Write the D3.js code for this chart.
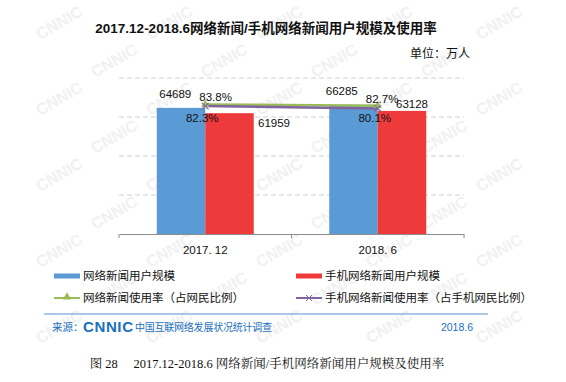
<!DOCTYPE html>
<html><head><meta charset="utf-8">
<script src="https://cdn.jsdelivr.net/npm/d3@7/dist/d3.min.js"></script>
<style>body{margin:0;background:#fff}svg{display:block}</style>
</head><body><svg id="c" width="566" height="382"></svg>
<script>
const categories = ["2017. 12", "2018. 6"];
const newsUsers = [64689, 66285];
const mobileNewsUsers = [61959, 63128];
const newsRate = [83.8, 82.7];
const mobileNewsRate = [82.3, 80.1];
const yTicks = [0, 20000, 40000, 60000, 80000];

const svg = d3.select("#c");
const sans = "'Liberation Sans', Arial, 'Noto Sans CJK SC', sans-serif";
const cjk = "'Noto Sans CJK SC', 'Liberation Sans', sans-serif";
const serif = "'Liberation Serif', 'Noto Serif CJK SC', 'Noto Sans CJK SC', serif";

// light watermark, kept inside the picture
const wm = svg.append("g").attr("fill", "#f1f1f1").attr("font-family", sans).attr("font-weight", "bold").attr("font-size", 16);
for (let r = 0; r < 9; r++) {
  for (let c = 0; c < 5; c++) {
    const x = 40 + c * 110 + (r % 2) * 55, y = 40 + r * 38;
    if (x > 500 || y > 350) continue;
    wm.append("text").attr("transform", `translate(${x},${y}) rotate(-30)`).text("CNNIC");
  }
}

const x0 = d3.scaleBand().domain(categories).range([119, 464]);
const y = d3.scaleLinear().domain([0, 80000]).range([234, 78]);
const y2 = d3.scaleLinear().domain([0, 100]).range([195, 87]);
const barW = 48.5;

// gridlines
svg.append("g").selectAll("line").data(yTicks.slice(1)).join("line")
  .attr("x1", 119).attr("x2", 464).attr("y1", d => y(d)).attr("y2", d => y(d))
  .attr("stroke", "#d0d0d0").attr("stroke-dasharray", "5,3");

// bars
const cx = d => x0(d) + x0.bandwidth() / 2;
svg.append("g").selectAll("rect").data(categories).join("rect")
  .attr("x", d => cx(d) - barW).attr("width", barW)
  .attr("y", (d, i) => y(newsUsers[i])).attr("height", (d, i) => y(0) - y(newsUsers[i]))
  .attr("fill", "#5b9bd5");
svg.append("g").selectAll("rect").data(categories).join("rect")
  .attr("x", d => cx(d)).attr("width", barW)
  .attr("y", (d, i) => y(mobileNewsUsers[i])).attr("height", (d, i) => y(0) - y(mobileNewsUsers[i]))
  .attr("fill", "#ee3a3b");

// axis
const ax = svg.append("g").attr("transform", "translate(0,234)")
  .call(d3.axisBottom(x0).tickSizeOuter(0).tickSize(0).tickPadding(12));
ax.select(".domain").attr("stroke", "#8c8c8c");
ax.selectAll("text").attr("font-family", sans).attr("font-size", 11.5).attr("fill", "#111");
svg.append("g").selectAll("line").data([119, 291.5, 464]).join("line")
  .attr("x1", d => d).attr("x2", d => d).attr("y1", 234).attr("y2", 238).attr("stroke", "#8c8c8c");

// lines
const line = d3.line().x(d => d[0]).y(d => d[1]);
const gPts = categories.map((c, i) => [cx(c), y2(newsRate[i])]);
const pPts = categories.map((c, i) => [cx(c), y2(mobileNewsRate[i])]);
svg.append("path").attr("d", line(gPts)).attr("fill", "none").attr("stroke", "#9bbb59").attr("stroke-width", 2.5);
svg.append("path").attr("d", line(pPts)).attr("fill", "none").attr("stroke", "#8064a2").attr("stroke-width", 2.5);
const tri = d3.symbol().type(d3.symbolTriangle).size(30);
svg.append("g").selectAll("path").data(gPts).join("path")
  .attr("transform", d => `translate(${d[0]},${d[1]})`).attr("d", tri()).attr("fill", "#9bbb59");
svg.append("g").selectAll("path").data(pPts).join("path")
  .attr("transform", d => `translate(${d[0]},${d[1]})`).attr("d", d3.symbol().type(d3.symbolX).size(30)())
  .attr("fill", "none").attr("stroke", "#8064a2").attr("stroke-width", 1.2);

// labels
const lab = svg.append("g").attr("font-family", sans).attr("font-size", 11.5).attr("fill", "#111");
const userDx = [-30, -36], rateDx = [-6, -12];
categories.forEach((c, i) => {
  const m = cx(c);
  lab.append("text").attr("x", m + userDx[i]).attr("y", y(newsUsers[i]) - 10).attr("text-anchor", "middle").text(newsUsers[i]);
  lab.append("text").attr("x", m + rateDx[i]).attr("y", y2(newsRate[i]) - 3).attr("text-anchor", "start").text(newsRate[i].toFixed(1) + "%");
  lab.append("text").attr("x", m - 3).attr("y", y2(mobileNewsRate[i]) + 15.5 - i * 1.5).attr("text-anchor", "middle").text(mobileNewsRate[i].toFixed(1) + "%");
});
lab.append("text").attr("x", 274).attr("y", y(mobileNewsUsers[0]) + 14).attr("text-anchor", "middle").text(mobileNewsUsers[0]);
lab.append("text").attr("x", 412).attr("y", y(mobileNewsUsers[1]) - 3).attr("text-anchor", "middle").text(mobileNewsUsers[1]);

// title
svg.append("text").attr("x", 266).attr("y", 33).attr("text-anchor", "middle")
  .attr("font-family", "'Liberation Sans', 'Noto Sans CJK SC', sans-serif").attr("font-weight", "bold").attr("font-size", 13.5).attr("fill", "#111")
  .text("2017.12-2018.6网络新闻/手机网络新闻用户规模及使用率");
svg.append("text").attr("x", 470).attr("y", 58).attr("text-anchor", "end")
  .attr("font-family", cjk).attr("font-size", 12).attr("fill", "#111").text("单位：万人");

// legend
const leg = svg.append("g").attr("font-family", cjk).attr("font-size", 11.5).attr("fill", "#111");
const items = [
  {x: 54, y: 276, t: "网络新闻用户规模", c: "#5b9bd5", k: "bar"},
  {x: 296, y: 276, t: "手机网络新闻用户规模", c: "#ee3a3b", k: "bar"},
  {x: 54, y: 298, t: "网络新闻使用率（占网民比例）", c: "#9bbb59", k: "tri"},
  {x: 296, y: 298, t: "手机网络新闻使用率（占手机网民比例）", c: "#8064a2", k: "x"}
];
items.forEach(it => {
  if (it.k === "bar") {
    leg.append("rect").attr("x", it.x).attr("y", it.y - 2.5).attr("width", 26).attr("height", 5).attr("fill", it.c);
  } else {
    leg.append("line").attr("x1", it.x).attr("x2", it.x + 26).attr("y1", it.y).attr("y2", it.y).attr("stroke", it.c).attr("stroke-width", 2);
    if (it.k === "tri") leg.append("path").attr("transform", `translate(${it.x + 13},${it.y - 1})`).attr("d", tri()).attr("fill", it.c);
    else leg.append("path").attr("transform", `translate(${it.x + 13},${it.y})`).attr("d", d3.symbol().type(d3.symbolX).size(25)()).attr("fill", "none").attr("stroke", it.c);
  }
  leg.append("text").attr("x", it.x + 29).attr("y", it.y + 4).text(it.t);
});

// footer
svg.append("line").attr("x1", 44).attr("x2", 488).attr("y1", 314).attr("y2", 314).attr("stroke", "#5b8fd0").attr("stroke-width", 1.2);
const ft = svg.append("g").attr("fill", "#1a6fc0");
ft.append("text").attr("x", 52).attr("y", 331).attr("font-family", cjk).attr("font-size", 10.5).text("来源：");
ft.append("text").attr("x", 83).attr("y", 332).attr("font-family", sans).attr("font-weight", "bold").attr("font-size", 15).attr("textLength", 50).text("CNNIC");
ft.append("text").attr("x", 135).attr("y", 331).attr("font-family", cjk).attr("font-size", 10).attr("textLength", 137).text("中国互联网络发展状况统计调查");
ft.append("text").attr("x", 473).attr("y", 331).attr("text-anchor", "end").attr("font-family", sans).attr("font-size", 10.5).text("2018.6");

svg.append("text").attr("x", 267).attr("y", 368).attr("text-anchor", "middle")
  .attr("font-family", serif).attr("font-size", 12.5).attr("fill", "#111")
  .attr("xml:space", "preserve").text("图 28　 2017.12-2018.6 网络新闻/手机网络新闻用户规模及使用率");
</script></body></html>
